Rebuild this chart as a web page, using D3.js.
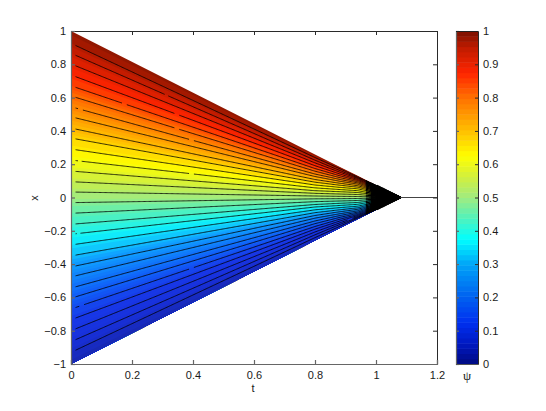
<!DOCTYPE html>
<html>
<head>
<meta charset="utf-8">
<script src="https://cdnjs.cloudflare.com/ajax/libs/d3/7.8.5/d3.min.js"></script>
<style>
  html, body { margin: 0; padding: 0; background: #fff; }
  text { font-family: "Liberation Sans", Arial, sans-serif; font-size: 11px; fill: #1a1a1a; }
  .axis path, .axis line { stroke: #2a2a2a; stroke-width: 1; }
  .axis.soft path, .axis.soft line { stroke: #666; stroke-width: 1.2; }
  .axis text { font-size: 11px; }
</style>
</head>
<body>
<svg width="546" height="411"></svg>
<script>
// t columns, then x of each contour at that column
// first and last row are the edges of the wedge (psi = 1 and psi = 0)
var tColumns = [0, 0.8, 0.88, 0.94, 0.98, 1.08];
var psiLevels = [1, .968, .935, .903, .871, .839, .806, .774, .742, .710, .677, .645, .613, .581, .548, .516,
                 .484, .452, .419, .387, .355, .323, .290, .258, .226, .194, .161, .129, .097, .065, .032, 0];
var xAtT0 = [1, .926, .866, .802, .736, .671, .61, .545, .485, .417, .357, .291, .225, .159, .095, .033,
             -.031, -.095, -.161, -.221, -.285, -.351, -.417, -.477, -.544, -.605, -.67, -.734, -.8, -.866, -.93, -1];
var xAtT080 = [.259, .240, .224, .208, .191, .174, .158, .141, .126, .108, .092, .075, .058, .041, .025, .009,
               -.008, -.025, -.042, -.057, -.074, -.091, -.108, -.124, -.141, -.157, -.174, -.19, -.207, -.224, -.241, -.259];
var xAtT088 = [.185, .174, .163, .153, .142, .131, .12, .109, .098, .086, .074, .061, .048, .035, .021, .007,
               -.007, -.021, -.035, -.048, -.061, -.074, -.086, -.098, -.109, -.12, -.131, -.142, -.153, -.163, -.174, -.185];
var xAtT094 = [.13, .124, .119, .114, .108, .102, .095, .088, .08, .071, .062, .052, .041, .03, .018, .006,
               -.006, -.018, -.03, -.041, -.052, -.062, -.071, -.08, -.088, -.095, -.102, -.108, -.114, -.119, -.124, -.13];
var xAtT098 = [.093, .089, .086, .082, .078, .073, .068, .062, .056, .05, .043, .036, .028, .02, .012, .004,
               -.004, -.012, -.02, -.028, -.036, -.043, -.05, -.056, -.062, -.068, -.073, -.078, -.082, -.086, -.089, -.093];
var xAtT108 = [0, 0, 0, 0, 0, 0, 0, 0, 0, 0, 0, 0, 0, 0, 0, 0, 0, 0, 0, 0, 0, 0, 0, 0, 0, 0, 0, 0, 0, 0, 0, 0];

// little breaks in the contour lines: [row, from t, to t]
var lineGaps = [[2, .308, .318], [5, .17, .18], [6, .342, .352], [4, .342, .352], [7, .39, .40], [7, .025, .035],
                [12, .025, .032], [12, .39, .40], [26, .39, .40], [26, .03, .04], [19, .02, .028], [28, .908, .922]];

var tTicks = [0, 0.2, 0.4, 0.6, 0.8, 1, 1.2];
var xTicks = [-1, -0.8, -0.6, -0.4, -0.2, 0, 0.2, 0.4, 0.6, 0.8, 1];
var psiTicks = [0, 0.1, 0.2, 0.3, 0.4, 0.5, 0.6, 0.7, 0.8, 0.9, 1];

// colours of the bar as they show in the picture
var colorDomain = [0, 0.06, 0.125, 0.2, 0.3, 0.375, 0.45, 0.5, 0.56, 0.625, 0.7, 0.8, 0.875, 0.95, 1];
var colorStops = ["#000a80", "#0018c0", "#0030f0", "#0060f0", "#00a4f8", "#00ffff", "#60f0b0", "#a0ec80", "#d0ef40", "#ffff00", "#ffc000", "#ff7000", "#ff2400", "#c01c00", "#7a1000"];
// the wedge itself shows a little lighter at the blue end
var fieldStops = ["#1828b0", "#1830d8", "#1838e8", "#1060f8", "#10a0ff", "#10f4fa", "#60f0b0", "#a0ec80", "#d0ef40", "#ffff00", "#ffc000", "#ff7000", "#ff2400", "#c01c00", "#8a1600"];

var svg = d3.select("svg");
var left = 71, right = 437, top_ = 31, bottom = 364;
var barLeft = 456, barRight = 478;

var tScale = d3.scaleLinear().domain([0, 1.2]).range([left, right]);
var xScale = d3.scaleLinear().domain([-1, 1]).range([bottom, top_]);
var psiScale = d3.scaleLinear().domain([0, 1]).range([bottom, top_]);

var jet = d3.scaleLinear().domain(colorDomain).range(colorStops).interpolate(d3.interpolateRgb);
var fieldColor = d3.scaleLinear().domain(colorDomain).range(fieldStops).interpolate(d3.interpolateRgb);
function field64(p) { return fieldColor((Math.min(63, Math.floor(p * 64)) + 0.5) / 64); }

var columns = [xAtT0, xAtT080, xAtT088, xAtT094, xAtT098, xAtT108];
function rowScale(i) {
	return d3.scaleLinear().domain(tColumns).range(columns.map(function(c) { return c[i]; }));
}
var rows = psiLevels.map(function(d, i) { return rowScale(i); });

// fill: bands painted top down, each one reaching to the lower edge so no seams show
var bands = [];
d3.range(rows.length - 1).forEach(function(i) {
	d3.range(3).forEach(function(j) {
		bands.push({ i: i, f: j / 3, psi: psiLevels[i] + (psiLevels[i + 1] - psiLevels[i]) * (j + 0.5) / 3 });
	});
});

var band = d3.area()
	.x(function(t) { return tScale(t); })
	.y0(function(t) { return xScale(rows[31](t)); });

var field = svg.append("g");
field.selectAll("path")
	.data(bands)
	.enter().append("path")
	.attr("fill", function(d) { return field64(d.psi); })
	.attr("d", function(d) {
		return band.y1(function(t) {
			return xScale(rows[d.i](t) + (rows[d.i + 1](t) - rows[d.i](t)) * d.f);
		})(tColumns);
	});

// contour lines, sampled so the breaks can be left out
var samples = d3.range(0.015, 1.0801, 0.004);
var contour = d3.line().x(function(d) { return tScale(d.t); }).y(function(d) { return xScale(d.x); })
	.defined(function(d) { return !d.gap; });

// strokes get heavier towards the tip where the lines pile up into black
var passes = [{ from: 0, width: 0.8 }, { from: 0.965, width: 1.1 }, { from: 0.98, width: 1.5 }, { from: 1.0, width: 1.8 }];

passes.forEach(function(pass) {
	svg.append("g").selectAll("path")
		.data(d3.range(0, 32))
		.enter().append("path")
		.filter(function(r) { return pass.from >= 1.0 || (r > 0 && r < 31); })
		.attr("fill", "none")
		.attr("stroke", "#000")
		.attr("stroke-width", pass.width)
		.attr("d", function(r) {
			var gaps = lineGaps.filter(function(g) { return g[0] === r; });
			return contour(samples.filter(function(t) { return t >= pass.from; }).map(function(t) {
				return { t: t, x: rows[r](t), gap: gaps.some(function(g) { return t >= g[1] && t <= g[2]; }) };
			}));
		});
});

// past the tip only the collapsed contours remain
svg.append("line")
	.attr("x1", tScale(1.08)).attr("x2", tScale(1.2))
	.attr("y1", xScale(0)).attr("y2", xScale(0))
	.attr("stroke", "#444").attr("stroke-width", 1);

var fmt = d3.format("~g");

svg.append("g").attr("class", "axis").attr("transform", "translate(0," + top_ + ")")
	.call(d3.axisTop(tScale).tickValues(tTicks).tickSize(-4).tickFormat(""));
svg.append("g").attr("class", "axis").attr("transform", "translate(" + right + ",0)")
	.call(d3.axisRight(xScale).tickValues(xTicks).tickSize(-4).tickFormat(""));
svg.append("g").attr("class", "axis soft").attr("transform", "translate(0," + bottom + ")")
	.call(d3.axisBottom(tScale).tickValues(tTicks).tickSize(-4).tickPadding(7).tickFormat(fmt));
svg.append("g").attr("class", "axis soft").attr("transform", "translate(" + left + ",0)")
	.call(d3.axisLeft(xScale).tickValues(xTicks).tickSize(-4).tickPadding(5).tickFormat(fmt));

svg.append("text").attr("x", 253).attr("y", 392).attr("text-anchor", "middle").text("t");
svg.append("text").attr("transform", "translate(38,198) rotate(-90)").attr("text-anchor", "middle").text("x");

// colour bar
svg.append("g").selectAll("rect")
	.data(d3.range(64))
	.enter().append("rect")
	.attr("x", barLeft)
	.attr("width", barRight - barLeft)
	.attr("y", function(d) { return psiScale((d + 1) / 64); })
	.attr("height", function() { return (bottom - top_) / 64 + 0.5; })
	.attr("fill", function(d) { return jet((d + 0.5) / 64); });

svg.append("g").attr("class", "axis").attr("transform", "translate(" + barRight + ",0)")
	.call(d3.axisRight(psiScale).tickValues(psiTicks).tickSize(-3).tickPadding(5).tickFormat(fmt));
svg.append("g").attr("class", "axis soft").attr("transform", "translate(" + barLeft + ",0)")
	.call(d3.axisLeft(psiScale).tickValues(psiTicks).tickSize(-3).tickFormat(""));
svg.append("line").attr("x1", barLeft).attr("x2", barRight).attr("y1", top_ + 0.5).attr("y2", top_ + 0.5).attr("stroke", "#222");
svg.append("line").attr("x1", barLeft).attr("x2", barRight).attr("y1", bottom + 0.5).attr("y2", bottom + 0.5).attr("stroke", "#555");

svg.append("text").attr("x", 467).attr("y", 380).attr("text-anchor", "middle")
	.style("font-family", "'Liberation Serif', serif").style("font-size", "13px").text("ψ");
</script>
</body>
</html>
